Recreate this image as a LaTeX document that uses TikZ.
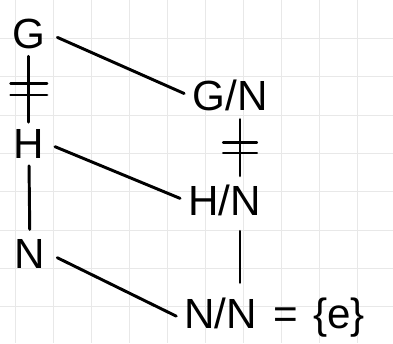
\documentclass[tikz,border=0pt]{standalone}
\usepackage{fontspec}
\setmainfont{Liberation Sans}
\usetikzlibrary{decorations.markings}
\tikzset{
  grp/.style    ={font=\fontsize{30}{32}\selectfont, inner sep=3pt},
  edge/.style   ={line width=2.1pt, line cap=round},
  nontriv/.style={edge, postaction={decorate, decoration={markings,
                   mark=at position 0.42 with {\draw[line width=1.8pt] (0,-15pt) -- (0,15pt);},
                   mark=at position 0.58 with {\draw[line width=1.8pt] (0,-15pt) -- (0,15pt);}}}},
  gridline/.style={draw=black!9, line width=0.5pt},
}

\begin{document}
\begin{tikzpicture}
\useasboundingbox (0,0) rectangle (9.825,-8.575);
% squared paper
\foreach \i in {0,...,10} \draw[gridline] ({0.375+0.95*\i},0) -- ++(0,-8.575);
\foreach \j in {1,...,8} \draw[gridline] (0,{-0.958*\j}) -- ++(9.825,0);

% left column
\node[grp] (g) at (0.72,-0.85) {G};
\node[grp] (h) at (0.72,-3.6) {H};
\node[grp] (n) at (0.75,-6.35) {N};
% right column
\node[grp] (gn) at (5.75,-2.38) {G/N};
\node[grp] (hn) at (5.62,-5.0) {H/N};
\node[grp,anchor=west] (nn) at (4.5,-7.95) {N/N\hspace{0.4em}=\hspace{0.35em}\{e\}};
\coordinate (col) at (6.0,0);

\draw[nontriv,shorten <=2pt,shorten >=2pt] (g) -- (h);
\draw[edge,shorten <=2pt,shorten >=4pt] (h) -- (n);
\draw[nontriv,shorten <=3pt,shorten >=3pt] (gn.south-|col) -- (hn.north-|col);
\draw[edge,shorten <=8pt,shorten >=8pt] (hn.south-|col) -- (nn.north-|col);

\draw[edge,shorten <=6pt,shorten >=3pt] (g.east) -- (gn.west);
\draw[edge,shorten <=5pt,shorten >=3pt] (h.east) -- (hn.west);
\draw[edge,shorten <=6pt,shorten >=3pt] (n.east) -- (nn.west);
\end{tikzpicture}
\end{document}
